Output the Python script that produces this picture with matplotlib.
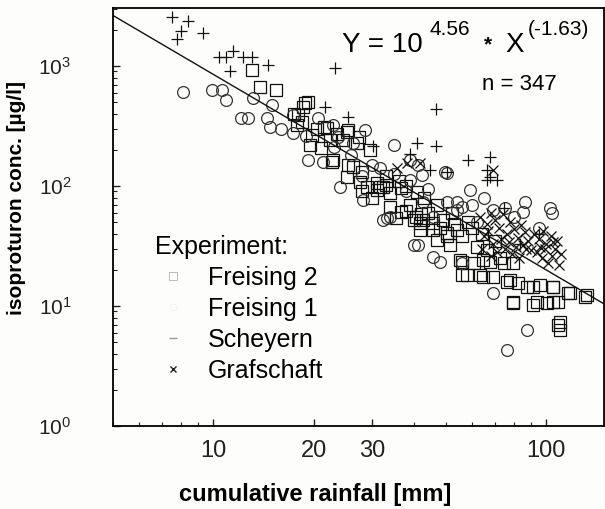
import matplotlib
matplotlib.use("Agg")
import matplotlib.pyplot as plt
from matplotlib.lines import Line2D
from matplotlib.ticker import NullFormatter
import numpy as np

plt.rcParams['font.family'] = ['Liberation Sans', 'DejaVu Sans']
plt.rcParams['mathtext.fontset'] = 'custom'
plt.rcParams['mathtext.rm'] = 'Liberation Sans'

# Freising 2 (squares)
sq_x = [13.1, 13.8, 15.4, 18.9, 18.0, 17.9, 22.0, 25.4, 19.8, 22.4, 22.8, 26.3, 25.2, 27.6, 31.0, 32.4, 36.5, 41.0,
        18.6, 19.2, 21.5, 25.2, 27.3, 21.0, 22.9, 25.4, 28.0,
        29.0, 31.0, 34.0, 36.5, 40.5, 41.9, 45.8, 50.5, 55.2, 64.7, 72.8, 57.9, 64.7, 78.0, 91.4, 105, 118, 132.7,
        79.6, 91.4, 105, 108.7,
        32.9, 34.0, 39.1, 40.0, 42.7, 45.8, 49.0, 50.5, 54.0, 56.0, 62.0, 66.5, 55.8, 60.5, 67.9, 74.5, 79.6,
        56.0, 63.4, 69.3, 76.4, 82.0, 87.7, 95.9, 105, 94.0, 100.7, 108.7, 116.5, 131, 79.6, 110, 110,
        31.7, 35.3, 41.9, 47.1, 51.5,
        17.5, 18.5, 20.5, 23.5, 24.5, 19.5, 27.0, 29.5, 33.0, 36.0, 38.0, 43.0, 47.0, 52.0, 58.0, 60.0,
        64.0, 70.0, 44.0, 48.0, 53.0, 38.0, 42.0, 30.0, 28.0]
sq_y = [926, 668, 631, 492, 391, 322, 304, 293, 266, 242, 158, 144, 119, 108, 106, 98, 96, 89,
        455, 500, 310, 282, 256, 209, 165, 150, 131,
        98, 93, 67, 61, 55, 49, 43, 38, 24.2, 24.2, 25.1, 18.1, 17.5, 16.5, 14.4, 14.4, 12.8, 12.4,
        10.8, 10.2, 10.8, 6.9,
        102, 87, 69, 52, 52, 49, 52, 40.5, 43, 38, 31, 29.3, 23.3, 22.8, 23.3, 22.8, 22.8,
        18.1, 18.1, 17.5, 15.9, 15.6, 14.4, 15, 14.4, 10.8, 10.6, 10.8, 12.8, 11.9, 10.6, 7.4, 6.3,
        98, 54, 43, 35.5, 32.2,
        400, 340, 300, 270, 240, 220, 230, 200, 120, 110, 100, 80, 70, 60, 50, 45,
        40, 35, 60, 45, 48, 62, 58, 80, 90]

# Freising 1 (circles)
ci_x = [8.1, 9.9, 10.6, 10.9, 13.2, 15.0, 12.1, 12.7, 14.5, 14.8, 17.3, 20.7, 22.9, 28.6, 17.3, 19.3, 21.4, 23.7,
        26.3, 34.8, 41.3, 31.7, 50.5, 59.1,
        86.5, 102.8, 104, 40.0, 41.3, 45.8, 48.1, 87.7, 76.4, 50.5, 54.0, 56.0, 69.3, 85.0, 56.0, 69.3,
        32.4, 34.0, 45.8, 42.7, 39.1, 42.3, 49.6, 39.1, 24.0, 28.2, 33.3, 54.1,
        16.0, 19.0, 23.0, 26.0, 30.0, 35.0, 28.0, 38.0, 44.0, 60.0, 65.0, 75.0, 80.0, 95.0, 62.0]
ci_y = [607, 631, 631, 521, 541, 473, 369, 369, 369, 310, 391, 369, 322, 293, 277, 165, 158, 256,
        228, 220, 150, 141, 128, 93,
        74, 66, 60, 32.2, 32.2, 25.6, 23.3, 6.3, 4.3, 74, 74, 67, 63, 61, 22.8, 12.8,
        52, 55, 55, 74, 112, 123, 131, 165, 98, 76, 54, 63,
        300, 260, 210, 180, 150, 125, 120, 90, 95, 70, 80, 65, 55, 45, 50]

# Scheyern (plus)
sc_x = [7.5, 8.4, 8.0, 7.8, 9.3, 10.4, 10.9, 11.5, 12.3, 13.1, 11.2, 14.6, 23.2, 46.5, 21.7, 25.4,
        30.2, 41.0, 46.5, 39.1, 58.3, 67.9, 66.5, 67.9, 71.3, 66.5, 44.9, 50.5, 74.5, 83.6, 95.0]
sc_y = [2560, 2370, 1960, 1680, 1884, 1189, 1189, 1334, 1189, 1189, 908, 1019, 962, 438, 455, 376,
        215, 228, 215, 185, 165, 175, 136, 119, 112, 112, 136, 131, 66, 33, 40]

# Grafschaft (x)
gr_x = [35.7, 38.3, 41.9, 69.3, 63.4, 66.5, 68, 70, 72, 74, 76, 78, 80, 82, 84, 86, 88,
        65, 69, 71, 75, 79, 83, 87, 67, 73, 77, 85, 81, 90, 64, 68,
        92, 95, 98, 100, 103, 106, 108, 111, 94, 97, 101, 104, 109, 99, 96, 105]
gr_y = [141, 155, 155, 136, 55, 48, 60, 52, 45, 58, 40, 50, 44, 37, 47, 41, 35,
        38, 33, 28, 30, 27, 25, 30, 42, 36, 34, 32, 31, 29, 30, 26,
        40, 36, 42, 33, 38, 30, 35, 27, 28, 25, 23, 26, 22, 30, 31, 34]

# regression Y = 10^a * X^b
fit_a = 4.56
fit_b = -1.63
x_min, x_max = 5.0, 149.0
y_min, y_max = 1.0, 3040.0

W, H = 605, 509
fig = plt.figure(figsize=(W / 100, H / 100), dpi=100)
fig.patch.set_facecolor('#fdfdfb')
ax = fig.add_axes([113 / W, 1 - 426 / H, 491 / W, 418 / H])
ax.set_facecolor('#fdfdfb')
ax.set_xscale('log')
ax.set_yscale('log')
ax.set_xlim(x_min, x_max)
ax.set_ylim(y_min, y_max)

mk = dict(linestyle='none', fillstyle='none', markeredgewidth=0.9)
ax.plot(sq_x, sq_y, marker='s', markersize=8.5, color='#111111', **mk)
ax.plot(ci_x, ci_y, marker='o', markersize=8.5, color='#333333', **mk)
ax.plot(sc_x, sc_y, marker='+', markersize=8, color='#111111', linestyle='none', markeredgewidth=0.9)
ax.plot(gr_x, gr_y, marker='x', markersize=7, color='#111111', linestyle='none', markeredgewidth=0.9)

xs = np.array([x_min, x_max])
ax.plot(xs, 10 ** fit_a * xs ** fit_b, color='#111111', linewidth=1.0)

# axes styling
for sp in ax.spines.values():
    sp.set_linewidth(1.3)
ax.tick_params(which='both', direction='in', colors='#222222')
ax.tick_params(which='major', length=5, width=1.0)
ax.tick_params(which='minor', length=3, width=0.8)
ax.tick_params(axis='y', which='major', pad=30, labelsize=15)
ax.tick_params(axis='x', which='major', pad=10, labelsize=17)

ax.set_xticks([10, 20, 30, 100])
ax.set_xticklabels(['10', '20', '30', '100'])
ax.xaxis.set_minor_formatter(NullFormatter())
ax.set_yticks([1, 10, 100, 1000])
ax.set_yticklabels([r'$\mathregular{10^0}$', r'$\mathregular{10^1}$',
                    r'$\mathregular{10^2}$', r'$\mathregular{10^3}$'])

ax.set_xlabel('cumulative rainfall [mm]', fontsize=17, fontweight='bold')
ax.xaxis.set_label_coords((315 - 113) / 491, -(495 - 426) / 418)
ax.xaxis.label.set_va('center')
ax.set_ylabel('isoproturon conc. [µg/l]', fontsize=15, fontweight='bold')
ax.yaxis.set_label_coords(-(113 - 17) / 491, (426 - 198) / 418)
ax.yaxis.label.set_va('center')

# equation and sample size
fig.text(342 / W, 1 - 52 / H, 'Y = 10', fontsize=20, va='baseline')
fig.text(430 / W, 1 - 35 / H, '4.56', fontsize=15, va='baseline')
fig.text(484 / W, 1 - 50 / H, '*', fontsize=15, va='baseline', fontweight='bold')
fig.text(505 / W, 1 - 52 / H, 'X', fontsize=20, va='baseline')
fig.text(528 / W, 1 - 35 / H, '(-1.63)', fontsize=15, va='baseline')
fig.text(482 / W, 1 - 90 / H, 'n = 347', fontsize=16, va='baseline')

# legend
handles = [
    Line2D([], [], marker='s', markersize=6, fillstyle='none', color='#bbbbbb', linestyle='none', markeredgewidth=0.7),
    Line2D([], [], marker='o', markersize=5, fillstyle='none', color='#eeeeee', linestyle='none', markeredgewidth=0.5),
    Line2D([], [], marker='_', markersize=6, color='#999999', linestyle='none'),
    Line2D([], [], marker='x', markersize=4, color='#222222', linestyle='none'),
]
labels = ['Freising 2', 'Freising 1', 'Scheyern', 'Grafschaft']
leg = ax.legend(handles, labels, title='Experiment:', loc='upper left',
                bbox_to_anchor=(155 / W, 1 - 235 / H), bbox_transform=fig.transFigure,
                frameon=False, fontsize=18, title_fontsize=18, alignment='left',
                handlelength=1.4, handletextpad=0.7, labelspacing=0.28,
                borderpad=0, borderaxespad=0)

fig.savefig('out.png', dpi=100, facecolor=fig.get_facecolor())
